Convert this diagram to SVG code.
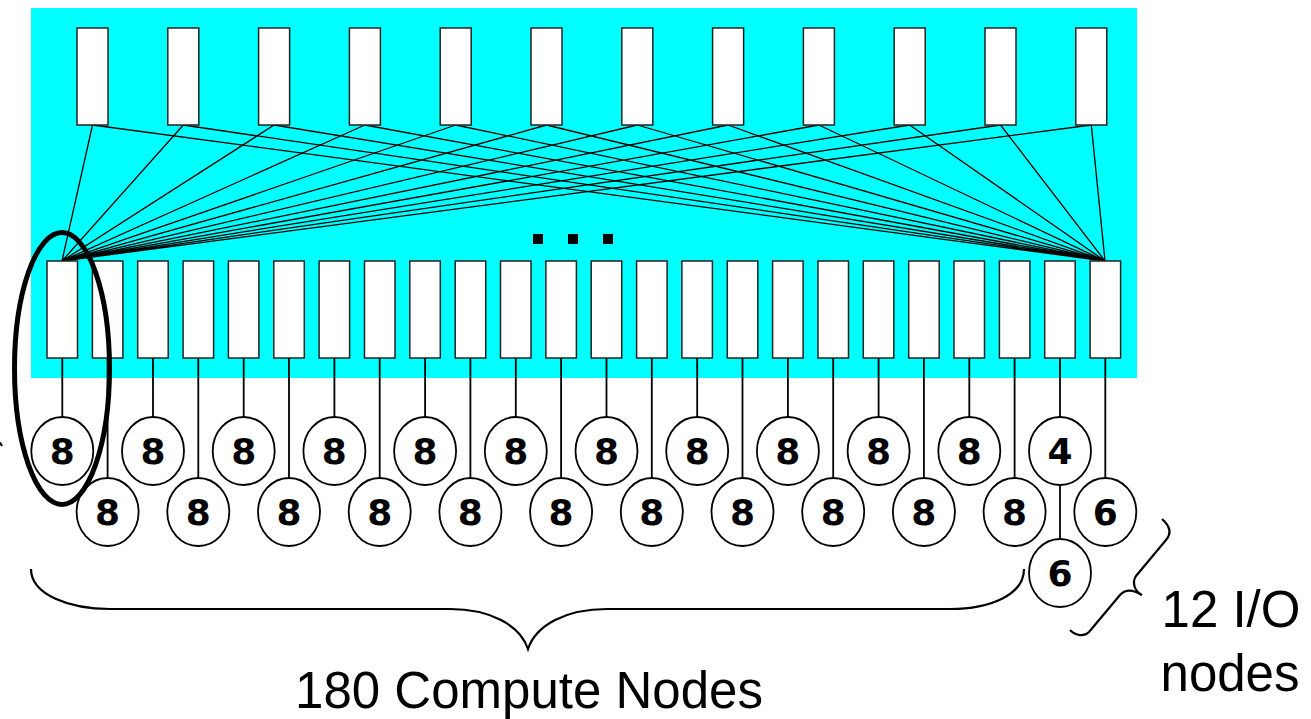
<svg xmlns="http://www.w3.org/2000/svg" width="1311" height="719" viewBox="0 0 1311 719">
<style>
.sw{fill:#fff;stroke:#222;stroke-width:1.5}
.cn{fill:#fff;stroke:#000;stroke-width:1.8}
.ln{stroke:#000;stroke-width:1.3;fill:none}
.vl{stroke:#000;stroke-width:1.8;fill:none}
.num{font-family:"DejaVu Sans",Verdana,sans-serif;font-weight:bold;font-size:36px;text-anchor:middle;fill:#000}
.lbl{font-family:"Liberation Sans",Arial,sans-serif;font-size:51px;text-anchor:middle;fill:#000}
.br{fill:none;stroke:#000;stroke-width:2.2}
</style>
<rect id="backplane" x="31" y="8" width="1106" height="370" fill="#00FFFF"/>
<g id="connectors">
<g class="ln">
<path d="M92.5 125L62 261M183.3 125L62 261M274.1 125L62 261M364.9 125L62 261M455.7 125L62 261M546.5 125L62 261M637.3 125L62 261M728.1 125L62 261M818.9 125L62 261M909.7 125L62 261M1000.5 125L62 261M1091.3 125L62 261"/>
<path d="M92.5 125L1105 261M183.3 125L1105 261M274.1 125L1105 261M364.9 125L1105 261M455.7 125L1105 261M546.5 125L1105 261M637.3 125L1105 261M728.1 125L1105 261M818.9 125L1105 261M909.7 125L1105 261M1000.5 125L1105 261M1091.3 125L1105 261"/>
</g>
<g class="vl">
<path d="M62.3 358V417M153 358V417M243.7 358V417M334.4 358V417M425.1 358V417M515.8 358V417M606.5 358V417M697.2 358V417M787.9 358V417M878.6 358V417M969.3 358V417M1060 358V417"/>
<path d="M107.6 358V478M198.3 358V478M289 358V478M379.7 358V478M470.4 358V478M561.1 358V478M651.8 358V478M742.5 358V478M833.2 358V478M923.9 358V478M1014.6 358V478M1105.3 358V478"/>
<path d="M1060 485V539"/>
</g>
</g>
<g id="top-switches">
<rect id="t1" class="sw" x="77" y="28" width="31" height="97"/>
<rect id="t2" class="sw" x="167.8" y="28" width="31" height="97"/>
<rect id="t3" class="sw" x="258.6" y="28" width="31" height="97"/>
<rect id="t4" class="sw" x="349.4" y="28" width="31" height="97"/>
<rect id="t5" class="sw" x="440.2" y="28" width="31" height="97"/>
<rect id="t6" class="sw" x="531" y="28" width="31" height="97"/>
<rect id="t7" class="sw" x="621.8" y="28" width="31" height="97"/>
<rect id="t8" class="sw" x="712.6" y="28" width="31" height="97"/>
<rect id="t9" class="sw" x="803.4" y="28" width="31" height="97"/>
<rect id="t10" class="sw" x="894.2" y="28" width="31" height="97"/>
<rect id="t11" class="sw" x="985" y="28" width="31" height="97"/>
<rect id="t12" class="sw" x="1075.8" y="28" width="31" height="97"/>
</g>
<g id="ellipsis">
<rect x="533" y="234" width="10" height="10" fill="#000"/>
<rect x="568" y="234" width="10" height="10" fill="#000"/>
<rect x="603" y="234" width="10" height="10" fill="#000"/>
</g>
<g id="bottom-switches">
<rect id="b1" class="sw" x="47" y="261" width="30.5" height="97"/>
<rect id="b2" class="sw" x="92.4" y="261" width="30.5" height="97"/>
<rect id="b3" class="sw" x="137.7" y="261" width="30.5" height="97"/>
<rect id="b4" class="sw" x="183.1" y="261" width="30.5" height="97"/>
<rect id="b5" class="sw" x="228.4" y="261" width="30.5" height="97"/>
<rect id="b6" class="sw" x="273.8" y="261" width="30.5" height="97"/>
<rect id="b7" class="sw" x="319.1" y="261" width="30.5" height="97"/>
<rect id="b8" class="sw" x="364.5" y="261" width="30.5" height="97"/>
<rect id="b9" class="sw" x="409.8" y="261" width="30.5" height="97"/>
<rect id="b10" class="sw" x="455.2" y="261" width="30.5" height="97"/>
<rect id="b11" class="sw" x="500.5" y="261" width="30.5" height="97"/>
<rect id="b12" class="sw" x="545.9" y="261" width="30.5" height="97"/>
<rect id="b13" class="sw" x="591.2" y="261" width="30.5" height="97"/>
<rect id="b14" class="sw" x="636.6" y="261" width="30.5" height="97"/>
<rect id="b15" class="sw" x="681.9" y="261" width="30.5" height="97"/>
<rect id="b16" class="sw" x="727.3" y="261" width="30.5" height="97"/>
<rect id="b17" class="sw" x="772.6" y="261" width="30.5" height="97"/>
<rect id="b18" class="sw" x="818" y="261" width="30.5" height="97"/>
<rect id="b19" class="sw" x="863.3" y="261" width="30.5" height="97"/>
<rect id="b20" class="sw" x="908.7" y="261" width="30.5" height="97"/>
<rect id="b21" class="sw" x="954" y="261" width="30.5" height="97"/>
<rect id="b22" class="sw" x="999.4" y="261" width="30.5" height="97"/>
<rect id="b23" class="sw" x="1044.7" y="261" width="30.5" height="97"/>
<rect id="b24" class="sw" x="1090.1" y="261" width="30.5" height="97"/>
</g>
<g id="nodes-row1">
<g id="n1"><ellipse class="cn" cx="62.3" cy="451" rx="31" ry="34"/><text class="num" x="62.3" y="464">8</text></g>
<g id="n3"><ellipse class="cn" cx="153" cy="451" rx="31" ry="34"/><text class="num" x="153" y="464">8</text></g>
<g id="n5"><ellipse class="cn" cx="243.7" cy="451" rx="31" ry="34"/><text class="num" x="243.7" y="464">8</text></g>
<g id="n7"><ellipse class="cn" cx="334.4" cy="451" rx="31" ry="34"/><text class="num" x="334.4" y="464">8</text></g>
<g id="n9"><ellipse class="cn" cx="425.1" cy="451" rx="31" ry="34"/><text class="num" x="425.1" y="464">8</text></g>
<g id="n11"><ellipse class="cn" cx="515.8" cy="451" rx="31" ry="34"/><text class="num" x="515.8" y="464">8</text></g>
<g id="n13"><ellipse class="cn" cx="606.5" cy="451" rx="31" ry="34"/><text class="num" x="606.5" y="464">8</text></g>
<g id="n15"><ellipse class="cn" cx="697.2" cy="451" rx="31" ry="34"/><text class="num" x="697.2" y="464">8</text></g>
<g id="n17"><ellipse class="cn" cx="787.9" cy="451" rx="31" ry="34"/><text class="num" x="787.9" y="464">8</text></g>
<g id="n19"><ellipse class="cn" cx="878.6" cy="451" rx="31" ry="34"/><text class="num" x="878.6" y="464">8</text></g>
<g id="n21"><ellipse class="cn" cx="969.3" cy="451" rx="31" ry="34"/><text class="num" x="969.3" y="464">8</text></g>
<g id="io1"><ellipse class="cn" cx="1060" cy="451" rx="31" ry="34"/><text class="num" x="1060" y="464">4</text></g>
</g>
<g id="nodes-row2">
<g id="n2"><ellipse class="cn" cx="107.6" cy="512" rx="31" ry="34"/><text class="num" x="107.6" y="525">8</text></g>
<g id="n4"><ellipse class="cn" cx="198.3" cy="512" rx="31" ry="34"/><text class="num" x="198.3" y="525">8</text></g>
<g id="n6"><ellipse class="cn" cx="289" cy="512" rx="31" ry="34"/><text class="num" x="289" y="525">8</text></g>
<g id="n8"><ellipse class="cn" cx="379.7" cy="512" rx="31" ry="34"/><text class="num" x="379.7" y="525">8</text></g>
<g id="n10"><ellipse class="cn" cx="470.4" cy="512" rx="31" ry="34"/><text class="num" x="470.4" y="525">8</text></g>
<g id="n12"><ellipse class="cn" cx="561.1" cy="512" rx="31" ry="34"/><text class="num" x="561.1" y="525">8</text></g>
<g id="n14"><ellipse class="cn" cx="651.8" cy="512" rx="31" ry="34"/><text class="num" x="651.8" y="525">8</text></g>
<g id="n16"><ellipse class="cn" cx="742.5" cy="512" rx="31" ry="34"/><text class="num" x="742.5" y="525">8</text></g>
<g id="n18"><ellipse class="cn" cx="833.2" cy="512" rx="31" ry="34"/><text class="num" x="833.2" y="525">8</text></g>
<g id="n20"><ellipse class="cn" cx="923.9" cy="512" rx="31" ry="34"/><text class="num" x="923.9" y="525">8</text></g>
<g id="n22"><ellipse class="cn" cx="1014.6" cy="512" rx="31" ry="34"/><text class="num" x="1014.6" y="525">8</text></g>
<g id="io2"><ellipse class="cn" cx="1105.3" cy="512" rx="31" ry="34"/><text class="num" x="1105.3" y="525">6</text></g>
</g>
<g id="io3"><ellipse class="cn" cx="1060" cy="573" rx="31" ry="34"/><text class="num" x="1060" y="586">6</text></g>
<g id="highlight"><ellipse cx="62" cy="368.5" rx="47.5" ry="136" fill="none" stroke="#000" stroke-width="5"/></g>
<path d="M0 442.5L2 446" stroke="#000" stroke-width="2"/>
<g id="compute-brace">
<path class="br" d="M31 569C31 595 70 609 110 609L450 609C490 609 520 625 528 649C536 625 566 609 607 609L950 609C990 609 1024 595 1024 569"/>
<text class="lbl" x="529" y="708">180 Compute Nodes</text>
</g>
<g id="io-brace">
<path class="br" d="M1162 519C1170 526 1172 533 1166 540L1136 576C1132 582 1134 591 1142 595C1134 590 1126 588 1120 595L1089 632C1084 637 1076 636 1070 630"/>
<text class="lbl" x="1231" y="627">12 I/O</text>
<text class="lbl" x="1230" y="691">nodes</text>
</g>
</svg>
